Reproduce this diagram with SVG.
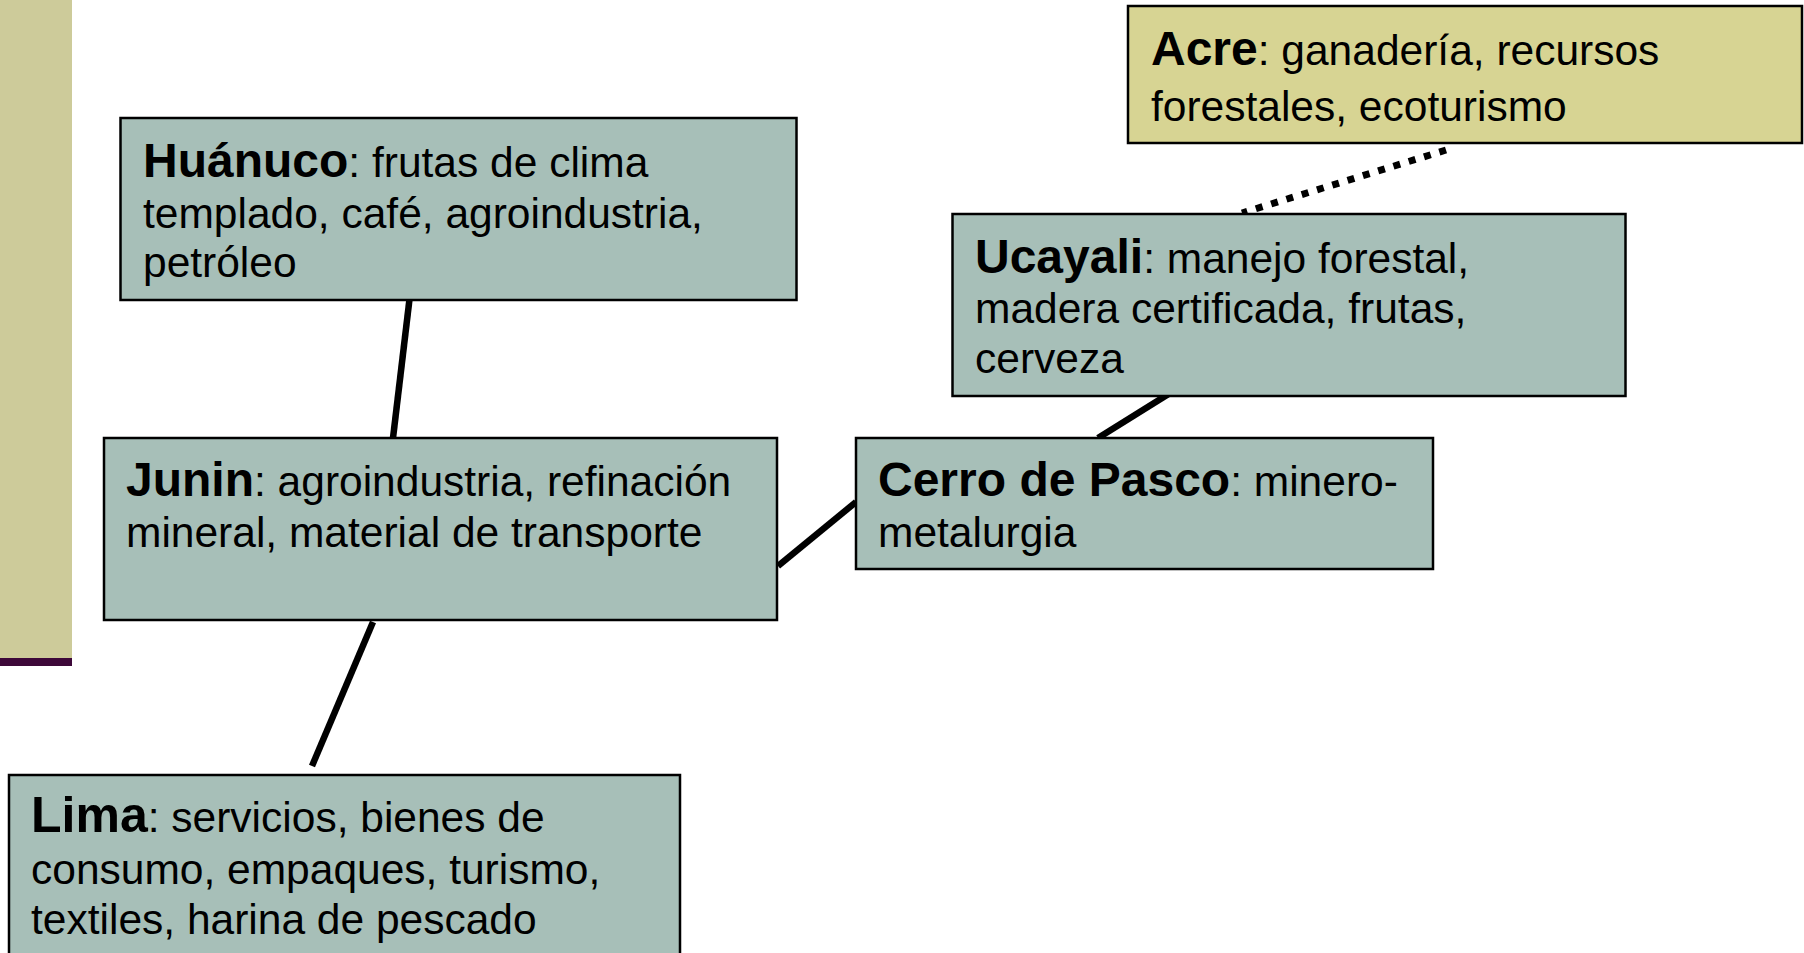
<svg xmlns="http://www.w3.org/2000/svg" width="1804" height="953" viewBox="0 0 1804 953">
<style>
.box{fill:#a7bfb8;stroke:#000;stroke-width:2.5}
.acre{fill:#d7d493;stroke:#000;stroke-width:2.5}
text{font-family:"Liberation Sans",Arial,sans-serif;font-size:42.5px;fill:#000}
.b{font-weight:bold;font-size:48px}
.bl{font-weight:bold;font-size:50px}
.ln{stroke:#000;stroke-width:6.5;fill:none}
.dot{stroke:#000;stroke-width:7;fill:none;stroke-dasharray:7 9}
</style>
<rect width="1804" height="953" fill="#fff"/>
<rect x="0" y="0" width="72" height="658" fill="#cdcb9a"/>
<rect x="0" y="658" width="72" height="8" fill="#3d0839"/>
<g id="connectors">
<line class="ln" x1="410" y1="295" x2="393" y2="438"/>
<line class="ln" x1="373" y1="622" x2="312" y2="766"/>
<line class="ln" x1="778" y1="566" x2="856" y2="502"/>
<line class="ln" x1="1175" y1="390" x2="1098" y2="438"/>
<line class="dot" x1="1446" y1="150" x2="1242" y2="213"/>
</g>
<g id="acre">
<rect class="acre" x="1128" y="6" width="674" height="137"/>
<text x="1151" y="65"><tspan class="b">Acre</tspan>: ganadería, recursos</text>
<text x="1151" y="121">forestales, ecoturismo</text>
</g>
<g id="huanuco">
<rect class="box" x="120.5" y="118" width="676" height="182"/>
<text x="143" y="177"><tspan class="b">Huánuco</tspan>: frutas de clima</text>
<text x="143" y="228">templado, café, agroindustria,</text>
<text x="143" y="277">petróleo</text>
</g>
<g id="ucayali">
<rect class="box" x="952.5" y="214" width="673" height="182"/>
<text x="975" y="273"><tspan class="b">Ucayali</tspan>: manejo forestal,</text>
<text x="975" y="323">madera certificada, frutas,</text>
<text x="975" y="373">cerveza</text>
</g>
<g id="junin">
<rect class="box" x="104" y="438" width="673" height="182"/>
<text x="126" y="496"><tspan class="b">Junin</tspan>: agroindustria, refinación</text>
<text x="126" y="547">mineral, material de transporte</text>
</g>
<g id="cerro">
<rect class="box" x="856" y="438" width="577" height="131"/>
<text x="878" y="496"><tspan class="b">Cerro de Pasco</tspan>: minero-</text>
<text x="878" y="547">metalurgia</text>
</g>
<g id="lima">
<rect class="box" x="9" y="775" width="671" height="190"/>
<text x="31" y="832"><tspan class="bl">Lima</tspan>: servicios, bienes de</text>
<text x="31" y="884">consumo, empaques, turismo,</text>
<text x="31" y="934">textiles, harina de pescado</text>
</g>
</svg>
